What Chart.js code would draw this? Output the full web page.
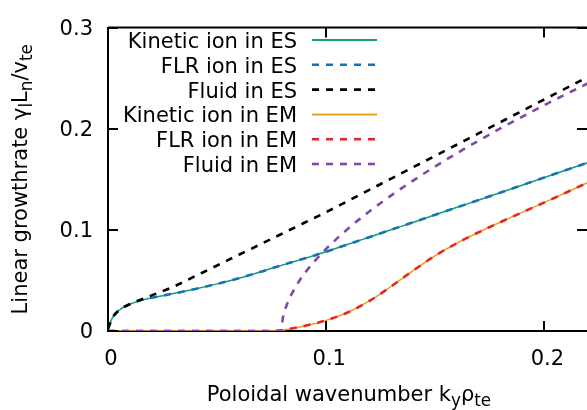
<!DOCTYPE html>
<html>
<head>
<meta charset="utf-8">
<script src="https://cdn.jsdelivr.net/npm/chart.js@4/dist/chart.umd.min.js"></script>
<style>
  html, body { margin: 0; padding: 0; background: #fff; }
  canvas { display: block; }
</style>
</head>
<body>
<canvas id="chart" width="587" height="410"></canvas>
<script>
// poloidal wavenumber k_y rho_te (shared grid for every curve)
const k = [0, 0.001, 0.002, 0.005, 0.01, 0.015, 0.02, 0.03, 0.04, 0.05, 0.06, 0.07, 0.075,
    0.0795, 0.08, 0.081, 0.0825, 0.085, 0.0875, 0.09, 0.095, 0.1, 0.11, 0.12, 0.13, 0.14,
    0.15, 0.16, 0.17, 0.18, 0.19, 0.2, 0.21, 0.22]

// growth rates
const kineticES = [0.002, 0.008, 0.013, 0.0205, 0.0265, 0.0303, 0.0328, 0.037, 0.0416, 0.0466, 0.0521, 0.0585, 0.062,
    0.0649, 0.0652, 0.0659, 0.0669, 0.0685, 0.0701, 0.0717, 0.075, 0.0784, 0.0857, 0.093, 0.1003, 0.1076,
    0.115, 0.1223, 0.1296, 0.137, 0.1444, 0.1518, 0.1592, 0.1666]
const flrES = kineticES.slice()
const fluidES = [0.002, 0.008, 0.013, 0.0205, 0.0265, 0.031, 0.0352, 0.0438, 0.0543, 0.0648, 0.0754, 0.0859, 0.0912,
    0.0959, 0.0964, 0.0975, 0.0991, 0.1017, 0.1043, 0.107, 0.1122, 0.1175, 0.1287, 0.1398, 0.151, 0.1621,
    0.1733, 0.1844, 0.1956, 0.2067, 0.2179, 0.229, 0.2402, 0.2513]
const kineticEM = [0, 0, 0, 0, 0, 0, 0, 0, 0, 0, 0, 0, 0,
    0.0006, 0.0008, 0.0012, 0.0018, 0.0028, 0.0038, 0.005, 0.0075, 0.0105, 0.0185, 0.030, 0.0445, 0.060,
    0.0745, 0.087, 0.0978, 0.1078, 0.1175, 0.1272, 0.137, 0.147]
const flrEM = kineticEM.slice()
const fluidEM = [0, 0, 0, 0, 0, 0, 0, 0, 0, 0, 0, 0, 0,
    0, 0.011, 0.02, 0.029, 0.040, 0.049, 0.0567, 0.0698, 0.0813, 0.1012, 0.1186, 0.1344, 0.149,
    0.1628, 0.1759, 0.1884, 0.2005, 0.2121, 0.2234, 0.2343, 0.245]

const labels = ['Kinetic ion in ES', 'FLR ion in ES', 'Fluid in ES',
    'Kinetic ion in EM', 'FLR ion in EM', 'Fluid in EM']
const colors = ['#109e74', '#1573b8', '#000000', '#e8a01c', '#e8262a', '#7f4aa4']
const dashed = [false, true, true, false, true, true]
const values = [kineticES, flrES, fluidES, kineticEM, flrEM, fluidEM]

const xTicks = [0, 0.1, 0.2]
const xTickLabels = ['0', '0.1', '0.2']
const yTicks = [0, 0.1, 0.2, 0.3]
const yTickLabels = ['0', '0.1', '0.2', '0.3']
const xMax = 0.2195

const FONT = '"DejaVu Sans", sans-serif'
const SIZE = 21
const DASH = [7, 7]

// text with subscripts: parts = [[text, isSub], ...]
function richWidth (ctx, parts) {
    let w = 0
    for (const [t, sub] of parts) {
        ctx.font = (sub ? SIZE * 0.8 : SIZE) + 'px ' + FONT
        w += ctx.measureText(t).width
    }
    return w
}
function drawRich (ctx, parts, x, y) {
    for (const [t, sub] of parts) {
        ctx.font = (sub ? SIZE * 0.8 : SIZE) + 'px ' + FONT
        ctx.fillText(t, x, sub ? y + 5 : y)
        x += ctx.measureText(t).width
    }
}

const xTitle = [['Poloidal wavenumber k', 0], ['y', 1], ['\u03c1', 0], ['te', 1]]
const yTitle = [['Linear growthrate \u03b3', 0], ['l', 1], ['L', 0], ['n', 1], ['/v', 0], ['te', 1]]

const frame = {
    id: 'frame',
    afterDraw (chart) {
        const ctx = chart.ctx
        const a = chart.chartArea
        const xs = chart.scales.x
        const ys = chart.scales.y
        ctx.save()
        ctx.strokeStyle = '#000'
        ctx.lineWidth = 2
        ctx.setLineDash([])
        ctx.beginPath()
        ctx.moveTo(a.left, a.top)
        ctx.lineTo(a.right, a.top)
        for (const v of xTicks) {
            const px = Math.round(xs.getPixelForValue(v))
            ctx.moveTo(px, a.bottom); ctx.lineTo(px, a.bottom - 10)
            ctx.moveTo(px, a.top); ctx.lineTo(px, a.top + 10)
        }
        for (const v of yTicks) {
            const py = Math.round(ys.getPixelForValue(v))
            ctx.moveTo(a.left, py); ctx.lineTo(a.left + 10, py)
            ctx.moveTo(a.right, py); ctx.lineTo(a.right - 10, py)
        }
        ctx.stroke()

        // legend: right-aligned text, sample line to the right
        ctx.fillStyle = '#000'
        ctx.textAlign = 'right'
        ctx.textBaseline = 'alphabetic'
        ctx.font = SIZE + 'px ' + FONT
        chart.data.datasets.forEach((ds, i) => {
            const y = 40 + i * 24.8
            ctx.fillText(ds.label, 297, y + 8)
            ctx.strokeStyle = ds.borderColor
            ctx.lineWidth = dashed[i] ? 2.6 : 2
            ctx.setLineDash(dashed[i] ? DASH : [])
            ctx.beginPath()
            ctx.moveTo(312, y)
            ctx.lineTo(377, y)
            ctx.stroke()
        })
        ctx.setLineDash([])

        // axis titles
        ctx.textAlign = 'left'
        let w = richWidth(ctx, xTitle)
        drawRich(ctx, xTitle, 349 - w / 2, 401)
        ctx.translate(27, (a.top + a.bottom) / 2)
        ctx.rotate(-Math.PI / 2)
        w = richWidth(ctx, yTitle)
        drawRich(ctx, yTitle, -w / 2, 0)
        ctx.restore()
    }
}

const tickFont = { family: FONT, size: SIZE }

new Chart(document.getElementById('chart'), {
    type: 'line',
    data: {
        datasets: values.map((vals, i) => ({
            label: labels[i],
            data: k.map((x, j) => ({ x, y: vals[j] })),
            borderColor: colors[i],
            borderWidth: dashed[i] ? 2.6 : 1.5,
            borderDash: dashed[i] ? DASH : [],
            pointRadius: 0,
            fill: false,
            cubicInterpolationMode: 'monotone',
            order: values.length - i
        }))
    },
    options: {
        responsive: false,
        animation: false,
        events: [],
        layout: { padding: { top: 17, right: 0, left: 0, bottom: 0 } },
        plugins: { legend: { display: false }, tooltip: { enabled: false } },
        scales: {
            x: {
                type: 'linear', min: 0, max: xMax, z: 1,
                afterBuildTicks: s => { s.ticks = xTicks.map(v => ({ value: v })) },
                afterFit: s => { s.height = 79 },
                grid: { display: true, drawOnChartArea: false, drawTicks: false },
                border: { display: true, color: '#000', width: 2 },
                ticks: {
                    font: tickFont, color: '#000', padding: 16, labelOffset: 3,
                    autoSkip: false, maxRotation: 0,
                    callback: v => xTickLabels[xTicks.indexOf(v)]
                }
            },
            y: {
                type: 'linear', min: 0, max: 0.3, z: 1,
                afterBuildTicks: s => { s.ticks = yTicks.map(v => ({ value: v })) },
                afterFit: s => { s.width = 108 },
                grid: { display: true, drawOnChartArea: false, drawTicks: false },
                border: { display: true, color: '#000', width: 2 },
                ticks: {
                    font: tickFont, color: '#000', padding: 15, labelOffset: 2,
                    autoSkip: false,
                    callback: v => yTickLabels[yTicks.indexOf(v)]
                }
            }
        }
    },
    plugins: [frame]
})
</script>
</body>
</html>
